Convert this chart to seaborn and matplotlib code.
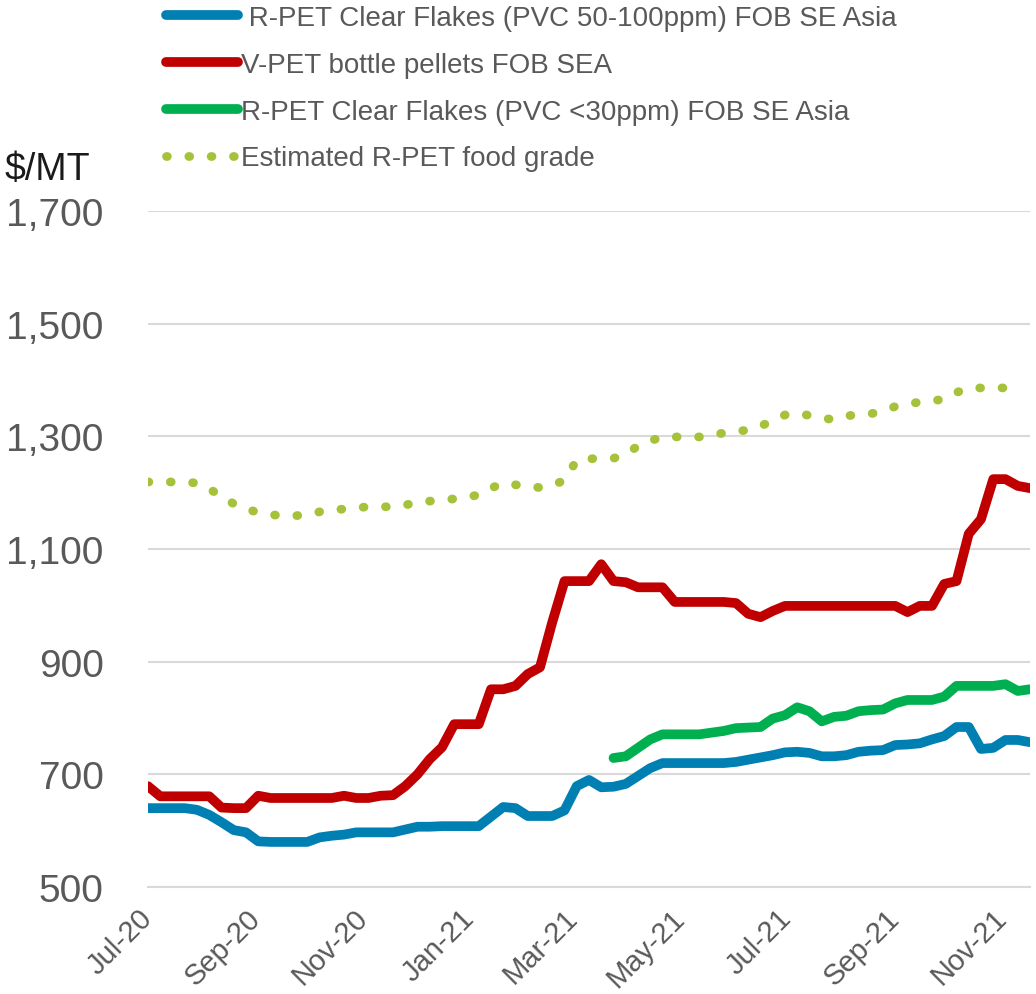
import matplotlib
matplotlib.use('Agg')
import matplotlib.pyplot as plt
from matplotlib.lines import Line2D
import seaborn as sns
import numpy as np
import pandas as pd

# weekly price assessments, $/MT
dates = pd.date_range('2020-07-03', periods=73, freq='7D')

rpet_50_100 = [640, 640, 640, 640, 637, 628, 615, 601, 597, 581,
               580, 580, 580, 580, 588, 591, 593, 597, 597, 597,
               597, 602, 607, 607, 608, 608, 608, 608, 625, 642,
               640, 626, 626, 626, 636, 679, 690, 677, 678, 683,
               697, 711, 720, 720, 720, 720, 720, 720, 722, 726,
               730, 734, 739, 740, 738, 732, 732, 734, 740, 742,
               743, 752, 753, 755, 762, 768, 784, 784, 745, 747,
               761, 761, 757]

vpet_pellets = [679, 661, 661, 661, 661, 661, 641, 640, 640, 662,
                658, 658, 658, 658, 658, 658, 662, 658, 658, 662,
                663, 679, 700, 727, 748, 789, 789, 789, 851, 851,
                857, 878, 890, 970, 1043, 1043, 1043, 1073, 1043, 1041,
                1032, 1032, 1032, 1006, 1006, 1006, 1006, 1006, 1004, 985,
                979, 990, 999, 999, 999, 999, 999, 999, 999, 999,
                999, 999, 988, 999, 999, 1038, 1043, 1127, 1153, 1224,
                1224, 1212, 1208]

rpet_30 = [np.nan] * 38 + [
    729, 732,
    747, 762, 771, 771, 771, 771, 774, 777, 782, 783,
    784, 799, 805, 819, 812, 794, 802, 804, 812, 814,
    815, 826, 832, 832, 832, 838, 857, 857, 857, 857,
    860, 848, 851]

food_grade = [1219, 1219, 1219, 1219, 1217, 1206, 1195, 1180, 1171, 1165,
              1161, 1159, 1159, 1161, 1166, 1169, 1171, 1173, 1175, 1175,
              1175, 1178, 1183, 1185, 1187, 1189, 1192, 1196, 1208, 1217,
              1214, 1211, 1209, 1213, 1222, 1258, 1260, 1261, 1261, 1268,
              1283, 1292, 1299, 1299, 1299, 1299, 1302, 1306, 1309, 1311,
              1318, 1328, 1338, 1341, 1337, 1332, 1330, 1336, 1339, 1340,
              1345, 1353, 1357, 1361, 1363, 1366, 1378, 1385, 1386, 1386,
              1386, np.nan, np.nan]

labels = [' R-PET Clear Flakes (PVC 50-100ppm) FOB SE Asia',
          'V-PET bottle pellets FOB SEA',
          'R-PET Clear Flakes (PVC <30ppm) FOB SE Asia',
          'Estimated R-PET food grade']
colors = ['#0080B2', '#C00000', '#00B050', '#A6C13A']
y_ticks = [500, 700, 900, 1100, 1300, 1500, 1700]

sns.set_style('white')
plt.rcParams['font.family'] = ['Liberation Sans', 'DejaVu Sans']

fig = plt.figure(figsize=(10.36, 9.95), dpi=100)
ax = fig.add_axes([148 / 1036, 1 - 888 / 995, 882 / 1036, 676 / 995])

df = pd.DataFrame({'date': dates, 'blue': rpet_50_100, 'red': vpet_pellets,
                   'green': rpet_30, 'food': food_grade})

solid = dict(linewidth=7, solid_capstyle='round', solid_joinstyle='round')
dotted = dict(linewidth=6.3, linestyle=(0, (0.1, 2.45)), dash_capstyle='round')

sns.lineplot(data=df, x='date', y='food', color=colors[3], ax=ax, **dotted)
sns.lineplot(data=df, x='date', y='blue', color=colors[0], ax=ax, **solid)
sns.lineplot(data=df, x='date', y='red', color=colors[1], ax=ax, **solid)
sns.lineplot(data=df, x='date', y='green', color=colors[2], ax=ax, **solid)

ax.set_xlim(dates[0], dates[-1])
ax.set_ylim(500, 1700)
ax.set_yticks(y_ticks)
ax.set_yticklabels([f'{v:,}' for v in y_ticks])
ax.yaxis.grid(True, color='#D9D9D9', linewidth=1.5)
ax.set_axisbelow(True)

xt = [dates[0] + pd.DateOffset(months=2 * i) for i in range(9)]
ax.set_xticks(xt)
ax.set_xticklabels([d.strftime('%b-%y') for d in xt], rotation=45,
                   ha='right', va='center', rotation_mode='anchor')
ax.set_xlabel('')
ax.set_ylabel('')

for s in ['top', 'right', 'left']:
    ax.spines[s].set_visible(False)
ax.spines['bottom'].set_color('#D9D9D9')
ax.spines['bottom'].set_linewidth(1.5)

ax.tick_params(axis='y', length=0, pad=32, labelsize=28, labelcolor='#595959')
ax.tick_params(axis='x', length=6, width=1.5, color='#D9D9D9', pad=13,
               labelsize=21, labelcolor='#595959')

fig.text(5 / 1036, 1 - 170 / 995, '$/MT', fontsize=27, color='#1A1A1A',
         ha='left', va='center')

handles = [Line2D([], [], color=colors[0], **solid),
           Line2D([], [], color=colors[1], **solid),
           Line2D([], [], color=colors[2], **solid),
           Line2D([], [], color=colors[3], **dotted)]
fig.legend(handles, labels, loc='upper left', bbox_to_anchor=(166 / 1036, 1 - 6 / 995),
           frameon=False, fontsize=20, labelcolor='#595959', handlelength=2.6,
           handletextpad=0.1, labelspacing=0.75, borderpad=0, borderaxespad=0)

plt.savefig('out.png', dpi=100)
plt.close()
